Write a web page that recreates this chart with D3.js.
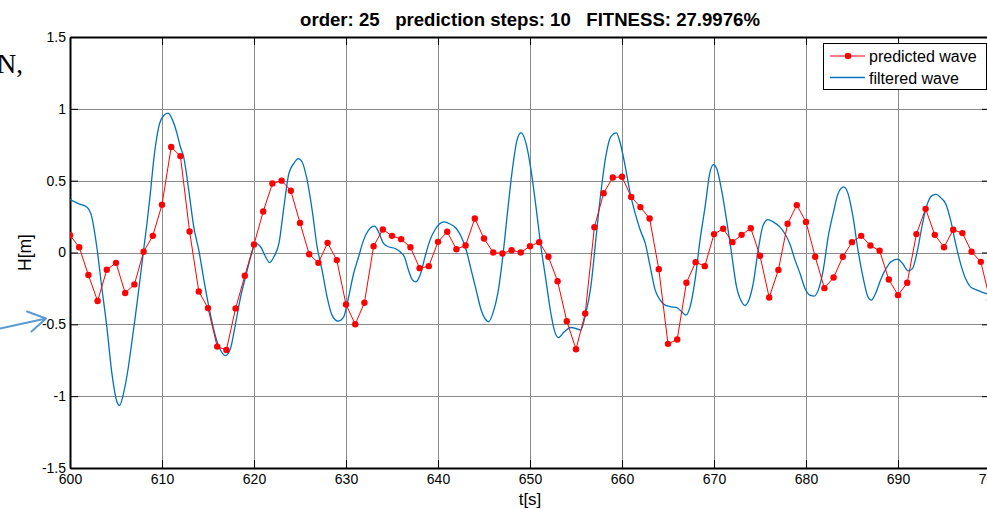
<!DOCTYPE html>
<html>
<head>
<meta charset="utf-8">
<script src="https://cdnjs.cloudflare.com/ajax/libs/d3/7.8.5/d3.min.js"></script>
<style>
    body { margin: 0; background: #fff; }
    svg { display: block; font-family: "Liberation Sans", Arial, sans-serif; }
</style>
</head>
<body>
<svg id="chart"></svg>
<script>

// predicted wave, one point per second from 600 s
let predStart = 600
let predicted = [
    0.12, 0.037, -0.157, -0.338, -0.12, -0.072, -0.282, -0.222, 0.005, 0.116,
    0.333, 0.734, 0.671, 0.146, -0.271, -0.387, -0.655, -0.678, -0.389, -0.162,
    0.056, 0.285, 0.48, 0.50, 0.43, 0.206, -0.012, -0.072, 0.067, -0.053,
    -0.362, -0.499, -0.35, 0.044, 0.16, 0.116, 0.093, 0.037, -0.109, -0.095,
    0.074, 0.144, 0.023, 0.049, 0.237, 0.097, 0.0, -0.007, 0.016, 0.0,
    0.044, 0.072, -0.03, -0.2, -0.478, -0.673, -0.425, 0.176, 0.413, 0.522,
    0.527, 0.387, 0.316, 0.237, -0.116, -0.636, -0.606, -0.211, -0.067, -0.095,
    0.128, 0.165, 0.072, 0.123, 0.169, -0.023, -0.313, -0.121, 0.2, 0.33,
    0.213, -0.03, -0.248, -0.174, -0.03, 0.072, 0.116, 0.049, 0.012, -0.188,
    -0.297, -0.211, 0.128, 0.304, 0.123, 0.037, 0.158, 0.135, 0.005, -0.065,
    -0.33
]

// filtered wave
let filteredT = [
    600.0, 600.91, 601.82, 602.36, 602.91, 603.45, 604.0, 604.55, 605.09, 605.38,
    605.82, 606.36, 606.73, 607.09, 607.45, 608.0, 608.36, 608.73, 609.09, 609.64,
    610.18, 610.65, 611.09, 611.64, 612.0, 612.36, 612.91, 613.45, 614.0, 614.55,
    615.09, 615.64, 616.18, 616.62, 616.91, 617.45, 618.0, 618.55, 619.09, 619.64,
    620.18, 620.72, 621.26, 621.7, 622.17, 622.71, 623.25, 623.79, 624.33, 624.8,
    625.23, 625.78, 626.32, 626.86, 627.4, 627.94, 628.48, 629.13, 629.75, 630.29,
    630.83, 631.37, 631.91, 632.45, 633.1, 633.54, 634.08, 634.62, 635.34, 635.88,
    636.35, 636.79, 637.22, 637.58, 638.05, 638.59, 639.13, 639.64, 640.18, 640.65,
    641.26, 641.99, 642.53, 643.07, 643.61, 644.15, 644.69, 645.23, 645.52, 645.96,
    646.5, 647.04, 647.58, 648.12, 648.59, 649.03, 649.57, 650.11, 650.65, 651.19,
    651.73, 652.27, 652.64, 653.1, 653.72, 654.44, 654.98, 655.52, 656.06, 656.61,
    657.15, 657.69, 658.23, 658.77, 659.39, 659.82, 660.36, 660.9, 661.44, 661.99,
    662.53, 663.07, 663.61, 664.15, 664.69, 665.42, 665.96, 666.5, 666.93, 667.4,
    667.94, 668.48, 669.03, 669.57, 669.93, 670.29, 670.83, 671.37, 671.91, 672.45,
    673.0, 673.36, 673.72, 674.26, 674.8, 675.34, 675.88, 676.43, 677.15, 677.69,
    678.23, 678.81, 679.35, 679.89, 680.43, 680.9, 681.33, 681.87, 682.41, 682.95,
    683.49, 684.1, 684.57, 685.11, 685.65, 686.19, 686.73, 687.09, 687.63, 688.17,
    688.71, 689.24, 689.96, 690.5, 691.12, 691.58, 692.12, 692.66, 693.2, 693.74,
    694.17, 694.64, 695.18, 695.72, 696.26, 696.8, 697.34, 697.88, 698.6, 699.53,
    700.0
]
let filteredH = [
    0.368, 0.34, 0.317, 0.25, 0.04, -0.24, -0.516, -0.84, -1.037, -1.065,
    -0.98, -0.79, -0.62, -0.45, -0.27, 0.016, 0.2, 0.41, 0.64, 0.873,
    0.954, 0.97, 0.93, 0.826, 0.734, 0.664, 0.433, 0.178, 0.016, -0.19,
    -0.377, -0.54, -0.655, -0.706, -0.718, -0.667, -0.493, -0.308, -0.169, -0.03,
    0.063, 0.04, -0.03, -0.07, -0.03, 0.063, 0.318, 0.55, 0.62, 0.654,
    0.63, 0.503, 0.295, 0.04, -0.123, -0.308, -0.436, -0.478, -0.448, -0.308,
    -0.146, -0.03, 0.086, 0.155, 0.183, 0.144, 0.063, 0.04, 0.028, 0.005,
    -0.03, -0.123, -0.19, -0.204, -0.158, -0.03, 0.086, 0.155, 0.2, 0.213,
    0.2, 0.167, 0.109, 0.016, -0.123, -0.262, -0.4, -0.47, -0.482, -0.424,
    -0.285, -0.03, 0.295, 0.596, 0.782, 0.835, 0.759, 0.573, 0.318, 0.04,
    -0.192, -0.424, -0.54, -0.592, -0.552, -0.522, -0.529, -0.54, -0.424, -0.239,
    0.086, 0.41, 0.666, 0.805, 0.833, 0.759, 0.596, 0.41, 0.271, 0.155,
    0.063, -0.1, -0.262, -0.331, -0.366, -0.378, -0.383, -0.413, -0.436, -0.378,
    -0.192, 0.086, 0.318, 0.561, 0.612, 0.584, 0.433, 0.225, -0.007, -0.239,
    -0.343, -0.369, -0.343, -0.216, 0.016, 0.19, 0.229, 0.213, 0.178, 0.132,
    0.063, -0.053, -0.146, -0.25, -0.297, -0.304, -0.262, -0.123, 0.109, 0.271,
    0.41, 0.457, 0.41, 0.248, 0.016, -0.169, -0.308, -0.332, -0.274, -0.181,
    -0.111, -0.065, -0.046, -0.077, -0.128, -0.111, 0.016, 0.2, 0.34, 0.398,
    0.405, 0.382, 0.34, 0.225, 0.063, -0.077, -0.181, -0.239, -0.262, -0.285,
    -0.29
]

let xTicks = d3.range(600, 701, 10)
let yTicks = [-1.5, -1, -0.5, 0, 0.5, 1, 1.5]
let legendNames = ["predicted wave", "filtered wave"]
let titleText = "order: 25   prediction steps: 10   FITNESS: 27.9976%"

let W = 987, H = 509
let pLeft = 70, pRight = 990, pTop = 37, pBottom = 468

let svg = d3.select("#chart").attr("width", W).attr("height", H)
svg.append("rect").attr("width", W).attr("height", H).attr("fill", "#fff")

let x = d3.scaleLinear().domain([600, 700]).range([pLeft, pRight])
let y = d3.scaleLinear().domain([-1.5, 1.5]).range([pBottom, pTop])

// grid
let grid = svg.append("g").attr("stroke", "#8a8a8a").attr("stroke-width", 1)
grid.selectAll(".gx").data(xTicks).enter().append("line")
    .attr("x1", d => Math.round(x(d)) + 0.5).attr("x2", d => Math.round(x(d)) + 0.5)
    .attr("y1", pTop).attr("y2", pBottom)
grid.selectAll(".gy").data(yTicks).enter().append("line")
    .attr("y1", d => Math.round(y(d)) + 0.5).attr("y2", d => Math.round(y(d)) + 0.5)
    .attr("x1", pLeft).attr("x2", pRight)

// axes, matlab style inward ticks
let fmt = d => String(d)
let axB = svg.append("g").attr("transform", "translate(0," + pBottom + ")")
    .call(d3.axisBottom(x).tickValues(xTicks).tickFormat(fmt).tickSizeInner(-8).tickSizeOuter(0).tickPadding(6))
let axT = svg.append("g").attr("transform", "translate(0," + pTop + ")")
    .call(d3.axisTop(x).tickValues(xTicks).tickFormat("").tickSizeInner(-8).tickSizeOuter(0))
let axL = svg.append("g").attr("transform", "translate(" + pLeft + ",0)")
    .call(d3.axisLeft(y).tickValues(yTicks).tickFormat(fmt).tickSizeInner(-8).tickSizeOuter(0).tickPadding(4))
let axR = svg.append("g").attr("transform", "translate(" + pRight + ",0)")
    .call(d3.axisRight(y).tickValues(yTicks).tickFormat("").tickSizeInner(-8).tickSizeOuter(0))

for (let ax of [axB, axT, axL, axR]) {
    ax.attr("font-family", null).attr("font-size", 14)
    ax.select(".domain").attr("stroke", "#000").attr("stroke-width", 2)
    ax.selectAll(".tick line").attr("stroke", "#000")
    ax.selectAll("text").attr("fill", "#000")
}

// data
let clip = svg.append("clipPath").attr("id", "plot-clip")
clip.append("rect").attr("x", pLeft).attr("y", pTop).attr("width", pRight - pLeft).attr("height", pBottom - pTop)
let plot = svg.append("g").attr("clip-path", "url(#plot-clip)")

let filtered = filteredT.map((t, i) => ({t: t, h: filteredH[i]}))
let pred = predicted.map((h, i) => ({t: predStart + i, h: h}))

let line = d3.line().x(d => x(d.t)).y(d => y(d.h))

plot.append("path").datum(filtered)
    .attr("d", line.curve(d3.curveMonotoneX))
    .attr("fill", "none").attr("stroke", "#0072bd").attr("stroke-width", 1.3)

plot.append("path").datum(pred)
    .attr("d", d3.line().x(d => x(d.t)).y(d => y(d.h)))
    .attr("fill", "none").attr("stroke", "#ff0000").attr("stroke-width", 1)

plot.selectAll(".dot").data(pred).enter().append("circle")
    .attr("cx", d => x(d.t)).attr("cy", d => y(d.h)).attr("r", 3.2)
    .attr("fill", "#ff0000")

// title and labels
svg.append("text").attr("x", (pLeft + pRight) / 2).attr("y", 26)
    .attr("text-anchor", "middle").attr("font-size", 18.6).attr("font-weight", "bold")
    .style("white-space", "pre").text(titleText)

svg.append("text").attr("x", (pLeft + pRight) / 2).attr("y", 505)
    .attr("text-anchor", "middle").attr("font-size", 17).text("t[s]")

svg.append("text").attr("transform", "translate(31," + y(0) + ") rotate(-90)")
    .attr("text-anchor", "middle").attr("font-size", 17.5).text("H[m]")

// legend
let lg = svg.append("g")
lg.append("rect").attr("x", 823.5).attr("y", 43.5).attr("width", 163).attr("height", 46)
    .attr("fill", "#fff").attr("stroke", "#000").attr("stroke-width", 1)
lg.append("line").attr("x1", 830).attr("x2", 865).attr("y1", 56).attr("y2", 56)
    .attr("stroke", "#ff0000").attr("stroke-width", 1)
lg.append("circle").attr("cx", 848).attr("cy", 56).attr("r", 3.2).attr("fill", "#ff0000")
lg.append("line").attr("x1", 830).attr("x2", 865).attr("y1", 77.5).attr("y2", 77.5)
    .attr("stroke", "#0072bd").attr("stroke-width", 1.3)
lg.selectAll(".lt").data(legendNames).enter().append("text")
    .attr("x", 869).attr("y", (d, i) => 62 + i * 21.5)
    .attr("font-size", 16).text(d => d)

// bits of the surrounding page that show in the picture
svg.append("text").attr("x", 23).attr("y", 73).attr("text-anchor", "end")
    .style("font-family", "'Liberation Serif', 'Times New Roman', serif").attr("font-size", 27).text("N,")
svg.append("path")
    .attr("d", "M0,328.5 L46,318.5 M27,311.5 L46,318.5 L31.5,331.5")
    .attr("fill", "none").attr("stroke", "#5b9bd5").attr("stroke-width", 2)
    .attr("stroke-linecap", "round").attr("stroke-linejoin", "round")

</script>
</body>
</html>
